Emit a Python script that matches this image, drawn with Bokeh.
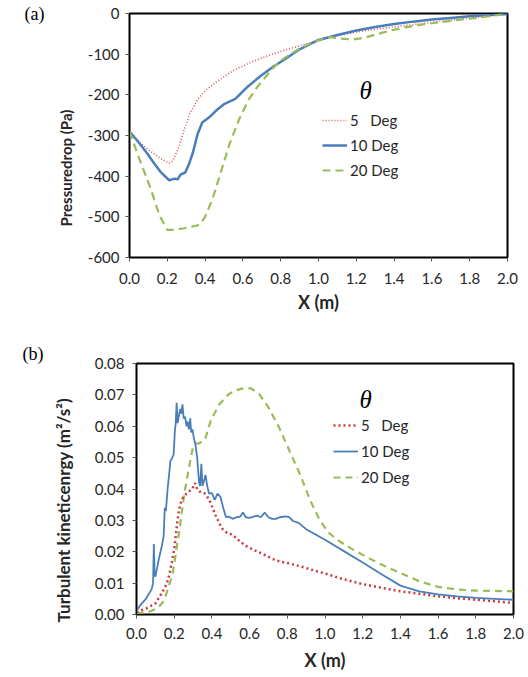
from bokeh.plotting import figure
from bokeh.models import (Range1d, FixedTicker, NumeralTickFormatter, Legend, LegendItem,
                          Label, Title, LinearAxis, Spacer)
from bokeh.layouts import column, row
from bokeh.embed import file_html
from bokeh.resources import INLINE

# ---------------- data: panel (a) pressure drop ----------------
xa_5 = [0, 0.05, 0.10, 0.16, 0.21, 0.23, 0.26, 0.29, 0.32, 0.36, 0.40, 0.46, 0.55, 0.65,
        0.75, 0.85, 0.95, 1.05, 1.15, 1.25, 1.35, 1.45, 1.55, 1.65, 1.75, 1.85, 1.95, 2.0]
pa_5 = [-290, -315, -335, -355, -368, -362, -330, -285, -245, -212, -190, -168, -140, -118,
        -101, -86, -73, -60, -50, -42, -36, -30, -25, -19, -14, -9, -4, -2]

xa_10 = [0, 0.05, 0.09, 0.13, 0.165, 0.21, 0.24, 0.255, 0.27, 0.295, 0.315, 0.335, 0.36, 0.385,
         0.42, 0.46, 0.50, 0.56, 0.62, 0.69, 0.76, 0.83, 0.90, 0.96, 1.0, 1.1, 1.2, 1.3, 1.4,
         1.5, 1.6, 1.7, 1.8, 1.9, 2.0]
pa_10 = [-290, -318, -342, -368, -390, -410, -406, -408, -396, -391, -370, -343, -297, -268,
         -256, -238, -223, -210, -182, -155, -131, -110, -88, -74, -65, -53, -42, -33, -26,
         -20, -15, -11, -7, -4, -1]

xa_20 = [0, 0.05, 0.11, 0.16, 0.20, 0.24, 0.29, 0.33, 0.37, 0.40, 0.44, 0.48, 0.53, 0.58,
         0.63, 0.68, 0.72, 0.76, 0.80, 0.85, 0.90, 0.95, 1.0, 1.06, 1.12, 1.18, 1.24, 1.30,
         1.38, 1.46, 1.55, 1.65, 1.75, 1.85, 1.93, 2.0]
pa_20 = [-290, -355, -428, -498, -532, -532, -528, -524, -520, -500, -455, -395, -320, -260,
         -212, -178, -156, -134, -116, -100, -86, -75, -66, -58, -62, -64, -60, -52,
         -42, -34, -27, -21, -15, -10, -5, -1]

# ---------------- data: panel (b) turbulent kinetic energy ----------------
xb_5 = [0, 0.05, 0.10, 0.138, 0.16, 0.173, 0.187, 0.20, 0.21, 0.218, 0.226, 0.235, 0.245, 0.253,
        0.265, 0.28, 0.295, 0.311, 0.322, 0.333, 0.345, 0.359, 0.372, 0.386, 0.40, 0.421, 0.44,
        0.457, 0.48, 0.51, 0.545, 0.58, 0.615, 0.651, 0.69, 0.722, 0.765, 0.81, 0.86, 0.917,
        0.96, 1.005, 1.1, 1.2, 1.3, 1.4, 1.5, 1.6, 1.7, 1.8, 1.9, 2.0]
kb_5 = [0.0008, 0.0019, 0.0035, 0.0072, 0.0098, 0.0124, 0.0165, 0.0208, 0.026, 0.0303, 0.0335,
        0.0356, 0.037, 0.0377, 0.0385, 0.0393, 0.040, 0.0419, 0.040, 0.0393, 0.0388, 0.0387,
        0.0378, 0.0366, 0.0345, 0.0314, 0.029, 0.0272, 0.026, 0.0254, 0.0235, 0.0219, 0.0208,
        0.0198, 0.0187, 0.0177, 0.0168, 0.0163, 0.0155, 0.0145, 0.0137, 0.013, 0.0112, 0.0097,
        0.0085, 0.0074, 0.0066, 0.0058, 0.0052, 0.0047, 0.0042, 0.0037]

xb_10 = [0, 0.02, 0.05, 0.08, 0.088, 0.092, 0.096, 0.10, 0.118, 0.135, 0.144, 0.150, 0.156,
         0.165, 0.172, 0.18, 0.19, 0.197, 0.203, 0.208, 0.213, 0.218, 0.224, 0.232, 0.238,
         0.244, 0.25, 0.258, 0.265, 0.271, 0.278, 0.285, 0.29, 0.297, 0.305, 0.313, 0.322,
         0.332, 0.338, 0.344, 0.35, 0.358, 0.366, 0.375, 0.385, 0.40, 0.415, 0.43, 0.445, 0.46,
         0.475, 0.49, 0.51, 0.53, 0.55, 0.565, 0.58, 0.60, 0.62, 0.64, 0.66, 0.68, 0.70, 0.72,
         0.74, 0.76, 0.79, 0.81, 0.83, 0.86, 0.90, 0.95, 1.0, 1.1, 1.2, 1.3, 1.4, 1.5, 1.6,
         1.7, 1.8, 1.9, 2.0]
kb_10 = [0.001, 0.003, 0.005, 0.008, 0.010, 0.0225, 0.013, 0.012, 0.0175, 0.022, 0.025, 0.034,
         0.033, 0.040, 0.044, 0.049, 0.050, 0.051, 0.058, 0.061, 0.0675, 0.061, 0.063, 0.0655,
         0.064, 0.067, 0.0625, 0.063, 0.060, 0.0615, 0.059, 0.0625, 0.058, 0.059, 0.056, 0.054,
         0.050, 0.042, 0.041, 0.048, 0.041, 0.0425, 0.0445, 0.041, 0.0385, 0.0387, 0.0365,
         0.0385, 0.0375, 0.034, 0.031, 0.0312, 0.0305, 0.031, 0.0312, 0.0325, 0.031, 0.0308,
         0.0312, 0.0315, 0.031, 0.0325, 0.031, 0.0305, 0.0305, 0.031, 0.0313, 0.031, 0.0298,
         0.0292, 0.0272, 0.0255, 0.0238, 0.0202, 0.0166, 0.0128, 0.0092, 0.0074, 0.0064,
         0.0058, 0.0053, 0.005, 0.0047]

xb_20 = [0, 0.03, 0.066, 0.10, 0.12, 0.14, 0.155, 0.17, 0.19, 0.20, 0.215, 0.228, 0.24, 0.255,
         0.27, 0.285, 0.30, 0.315, 0.33, 0.35, 0.365, 0.38, 0.395, 0.44, 0.49, 0.53, 0.56, 0.59,
         0.61, 0.65, 0.70, 0.755, 0.81, 0.865, 0.92, 0.97, 1.02, 1.08, 1.14, 1.2, 1.3, 1.4, 1.5,
         1.6, 1.7, 1.8, 1.9, 2.0]
kb_20 = [0.0005, 0.0006, 0.0009, 0.0017, 0.0025, 0.004, 0.006, 0.0088, 0.0125, 0.016, 0.022,
         0.027, 0.0324, 0.039, 0.044, 0.049, 0.0535, 0.0545, 0.0545, 0.0552, 0.056, 0.059,
         0.062, 0.067, 0.0703, 0.0715, 0.072, 0.0722, 0.072, 0.0703, 0.066, 0.0598, 0.0524,
         0.045, 0.0366, 0.0303, 0.026, 0.0232, 0.021, 0.019, 0.0159, 0.0132, 0.0106, 0.0088,
         0.008, 0.0076, 0.0075, 0.0074]

x_ticks = [0.0, 0.2, 0.4, 0.6, 0.8, 1.0, 1.2, 1.4, 1.6, 1.8, 2.0]
pa_ticks = [-600, -500, -400, -300, -200, -100, 0]
pa_tick_text = {-600: "-600", -500: "-500", -400: "-400", -300: "-300",
                -200: "-200", -100: "-100", 0: "0"}
kb_ticks = [0.0, 0.01, 0.02, 0.03, 0.04, 0.05, 0.06, 0.07, 0.08]
series_labels = ["5\u00a0\u00a0 Deg", "10 Deg", "20 Deg"]

FONT = "Lato"
SERIF = "Liberation Serif"
TXT = "#262626"
RED = "#d0393b"
BLUE = "#4a7ebb"
GREEN = "#9bbb59"


def style(p, xstand, ystand, xlab_stand):
    p.outline_line_color = "black"
    p.outline_line_width = 2
    p.grid.visible = False
    p.background_fill_color = "white"
    p.border_fill_color = "white"
    for ax in p.axis:
        ax.axis_line_color = "black"
        ax.axis_line_width = 1
        ax.major_tick_out = 4
        ax.major_tick_in = 0
        ax.major_tick_line_color = "#555555"
        ax.minor_tick_line_color = None
        ax.major_label_text_font = FONT
        ax.major_label_text_font_size = "15px"
        ax.major_label_text_color = TXT
        ax.axis_label_text_font = FONT
        ax.axis_label_text_font_style = "bold"
        ax.axis_label_text_font_size = "18px"
        ax.axis_label_text_color = TXT
    p.xaxis.major_label_standoff = xstand
    p.yaxis.major_label_standoff = ystand
    p.xaxis.axis_label_standoff = xlab_stand


def make_legend(renderers, loc, spacing):
    return Legend(items=[LegendItem(label=lab, renderers=[r])
                         for lab, r in zip(series_labels, renderers)],
                  location=loc, border_line_color=None, background_fill_alpha=0,
                  padding=0, margin=0, spacing=spacing, glyph_width=25, glyph_height=20,
                  label_height=20, label_standoff=3, label_text_font=FONT,
                  label_text_font_size="15px", label_text_color=TXT)


# ---------------- panel (a) ----------------
pa = figure(frame_width=378, frame_height=244, min_border_left=129, min_border_right=15,
            min_border_top=13, min_border_bottom=62, output_backend="svg",
            toolbar_location=None, x_range=Range1d(0, 2), y_range=Range1d(-600, 0))
style(pa, 11, 6, 4)
pa.xaxis.ticker = FixedTicker(ticks=x_ticks)
pa.xaxis.formatter = NumeralTickFormatter(format="0.0")
pa.yaxis.ticker = FixedTicker(ticks=pa_ticks)
pa.yaxis.major_label_overrides = pa_tick_text
pa.xaxis.axis_label = "X (m)"

ra5 = pa.line(xa_5, pa_5, line_color="#e0575a", line_width=1.6, line_dash="1 2")
ra10 = pa.line(xa_10, pa_10, line_color=BLUE, line_width=2.5)
ra20 = pa.line(xa_20, pa_20, line_color=GREEN, line_width=2.2, line_dash="8 5")

pa.add_layout(make_legend([ra5, ra10, ra20], (193, 77), 5), "center")
pa.add_layout(Label(x=1.249, y=-189, text="θ", text_font=SERIF,
                    text_font_style="italic", text_font_size="25px", text_color="black",
                    text_align="center", text_baseline="middle"))
pa.add_layout(Title(text="Pressuredrop (Pa)", align="left", offset=31, standoff=20,
                    text_font=FONT, text_font_style="bold", text_font_size="15px",
                    text_color=TXT), "left")
tag_a = LinearAxis(ticker=FixedTicker(ticks=[0]), major_label_overrides={0: "(a)"},
                   axis_line_color=None, major_tick_line_color=None,
                   minor_tick_line_color=None, major_tick_out=0, major_tick_in=0,
                   major_label_standoff=0, major_label_text_font=SERIF,
                   major_label_text_font_size="18px", major_label_text_color="black")
pa.add_layout(tag_a, "left")

# ---------------- panel (b) ----------------
pb = figure(frame_width=377, frame_height=251, min_border_left=129, min_border_right=15,
            min_border_top=44, min_border_bottom=62, output_backend="svg",
            toolbar_location=None, x_range=Range1d(0, 2), y_range=Range1d(0, 0.08))
style(pb, 9, 8, 7)
pb.xaxis.ticker = FixedTicker(ticks=x_ticks)
pb.xaxis.formatter = NumeralTickFormatter(format="0.0")
pb.yaxis.ticker = FixedTicker(ticks=kb_ticks)
pb.yaxis.formatter = NumeralTickFormatter(format="0.00")
pb.xaxis.axis_label = "X (m)"

rb20 = pb.line(xb_20, kb_20, line_color=GREEN, line_width=2.2, line_dash="7 5")
rb5 = pb.line(xb_5, kb_5, line_color=RED, line_width=2.5, line_dash="2 3")
rb10 = pb.line(xb_10, kb_10, line_color=BLUE, line_width=1.8)

pb.add_layout(make_legend([rb5, rb10, rb20], (197, 127), 6), "center")
pb.add_layout(Label(x=1.215, y=0.0685, text="θ", text_font=SERIF,
                    text_font_style="italic", text_font_size="25px", text_color="black",
                    text_align="center", text_baseline="middle"))
pb.add_layout(Title(text="Turbulent kineticenrgy (m²/s²)", align="left", offset=-8,
                    standoff=36, text_font=FONT, text_font_style="bold",
                    text_font_size="17px", text_color=TXT), "left")
pb.add_layout(Title(text="(b)", align="left", offset=-114, standoff=0, text_font=SERIF,
                    text_font_style="normal", text_font_size="18px",
                    text_color="black"), "above")

layout = column(pa, row(Spacer(width=7), pb))
open("out.html", "w").write(file_html(layout, INLINE))
